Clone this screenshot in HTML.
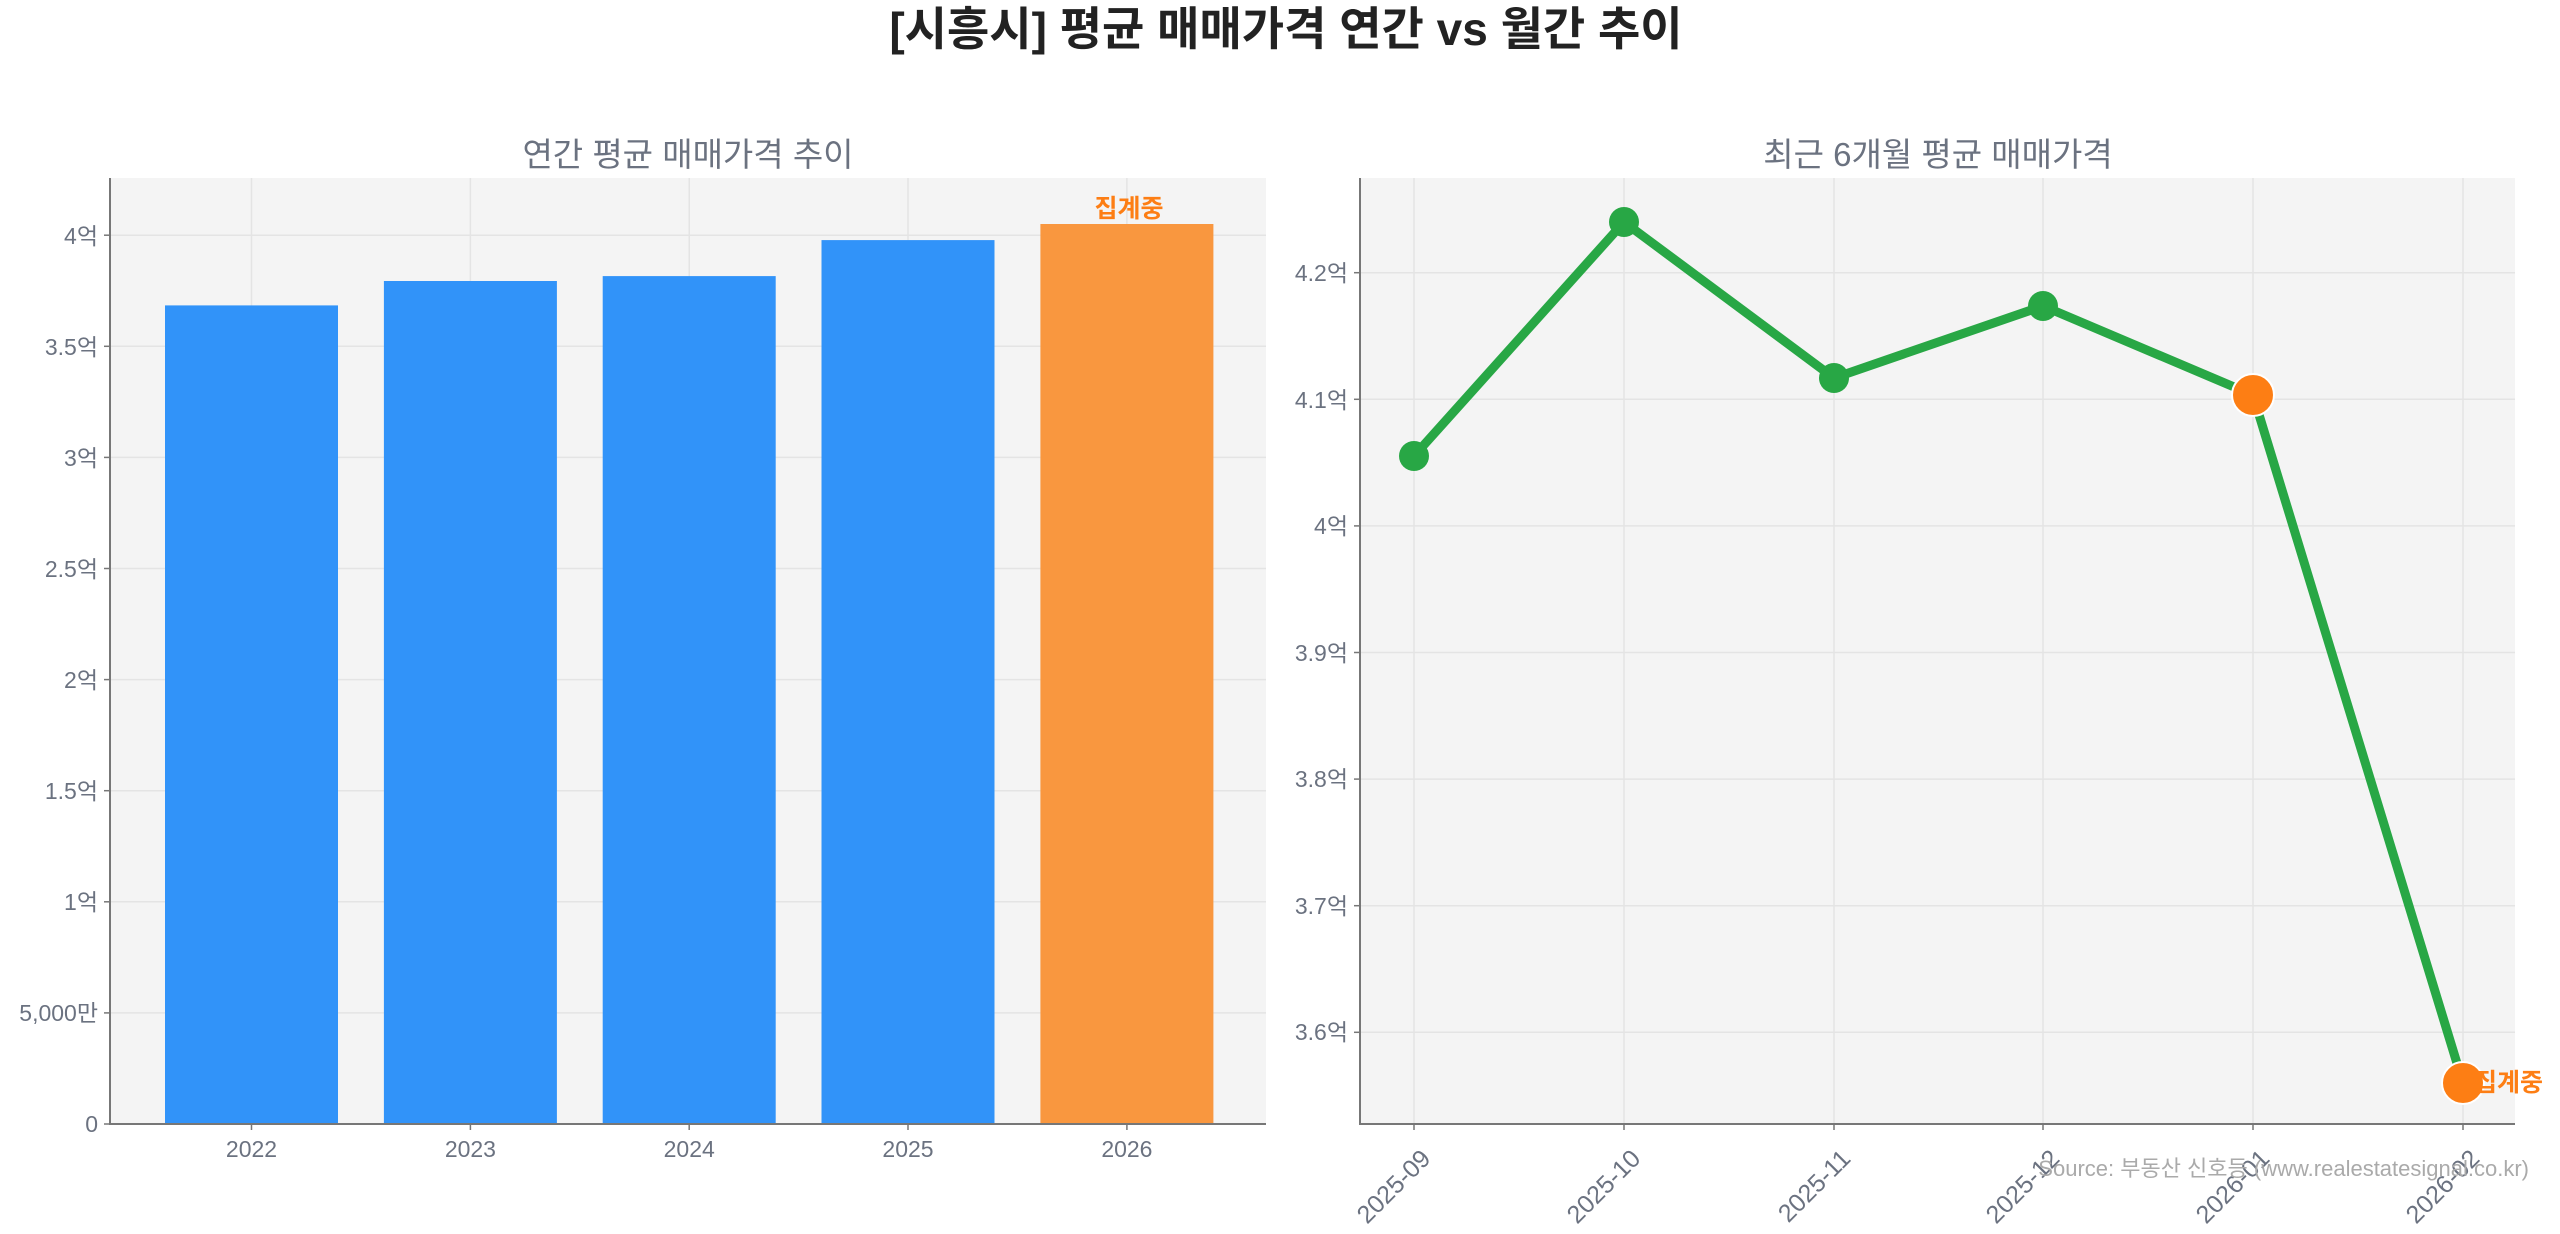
<!DOCTYPE html>
<html><head><meta charset="utf-8"><style>
html,body{margin:0;padding:0;background:#fff;}
svg{display:block;font-family:"Liberation Sans","Noto Sans CJK KR",sans-serif;}
</style></head><body>
<svg width="2560" height="1234" viewBox="0 0 2560 1234" xmlns="http://www.w3.org/2000/svg">
<text x="1286" y="45" font-size="46" font-weight="bold" fill="#222" text-anchor="middle">[시흥시] 평균 매매가격 연간 vs 월간 추이</text>

<!-- LEFT -->
<text x="688" y="166" font-size="33" fill="#6b7280" text-anchor="middle">연간 평균 매매가격 추이</text>
<rect x="110" y="178" width="1156" height="946" fill="#f4f4f4"/>
<g stroke="#e4e4e4" stroke-width="1.5">
<line x1="110" x2="1266" y1="1012.9" y2="1012.9"/><line x1="110" x2="1266" y1="901.8" y2="901.8"/>
<line x1="110" x2="1266" y1="790.7" y2="790.7"/><line x1="110" x2="1266" y1="679.6" y2="679.6"/>
<line x1="110" x2="1266" y1="568.5" y2="568.5"/><line x1="110" x2="1266" y1="457.4" y2="457.4"/>
<line x1="110" x2="1266" y1="346.3" y2="346.3"/><line x1="110" x2="1266" y1="235.2" y2="235.2"/>
<line y1="178" y2="1124" x1="251.5" x2="251.5"/><line y1="178" y2="1124" x1="470.4" x2="470.4"/>
<line y1="178" y2="1124" x1="689.2" x2="689.2"/><line y1="178" y2="1124" x1="908" x2="908"/>
<line y1="178" y2="1124" x1="1126.9" x2="1126.9"/>
</g>
<rect x="165" y="305.4" width="173" height="818.6" fill="#3193f9"/>
<rect x="383.9" y="281" width="173" height="843" fill="#3193f9"/>
<rect x="602.7" y="276.1" width="173" height="847.9" fill="#3193f9"/>
<rect x="821.5" y="240.1" width="173" height="883.9" fill="#3193f9"/>
<rect x="1040.4" y="224" width="173" height="900" fill="#f9973f"/>
<text x="1129" y="217" font-size="25" font-weight="bold" fill="#fd7e14" text-anchor="middle">집계중</text>
<line x1="110" y1="178" x2="110" y2="1124" stroke="#777" stroke-width="2"/>
<line x1="109" y1="1124" x2="1266" y2="1124" stroke="#777" stroke-width="2"/>
<g font-size="23" fill="#6b7280" text-anchor="end">
<text x="98" y="1132">0</text><text x="98" y="1021">5,000만</text><text x="98" y="910">1억</text>
<text x="98" y="799">1.5억</text><text x="98" y="688">2억</text><text x="98" y="577">2.5억</text>
<text x="98" y="466">3억</text><text x="98" y="355">3.5억</text><text x="98" y="244">4억</text>
</g>
<g stroke="#777" stroke-width="1.5">
<line x1="104" x2="110" y1="1124" y2="1124"/><line x1="104" x2="110" y1="1012.9" y2="1012.9"/><line x1="104" x2="110" y1="901.8" y2="901.8"/><line x1="104" x2="110" y1="790.7" y2="790.7"/><line x1="104" x2="110" y1="679.6" y2="679.6"/><line x1="104" x2="110" y1="568.5" y2="568.5"/><line x1="104" x2="110" y1="457.4" y2="457.4"/><line x1="104" x2="110" y1="346.3" y2="346.3"/><line x1="104" x2="110" y1="235.2" y2="235.2"/>
<line y1="1124" y2="1130" x1="251.5" x2="251.5"/><line y1="1124" y2="1130" x1="470.4" x2="470.4"/><line y1="1124" y2="1130" x1="689.2" x2="689.2"/><line y1="1124" y2="1130" x1="908" x2="908"/><line y1="1124" y2="1130" x1="1126.9" x2="1126.9"/>
</g>
<g font-size="23" fill="#6b7280" text-anchor="middle">
<text x="251.5" y="1157">2022</text><text x="470.4" y="1157">2023</text><text x="689.2" y="1157">2024</text><text x="908" y="1157">2025</text><text x="1126.9" y="1157">2026</text>
</g>

<!-- RIGHT -->
<text x="1938" y="166" font-size="33" fill="#6b7280" text-anchor="middle">최근 6개월 평균 매매가격</text>
<rect x="1360" y="178" width="1155" height="946" fill="#f4f4f4"/>
<g stroke="#e4e4e4" stroke-width="1.5">
<line x1="1360" x2="2515" y1="272.7" y2="272.7"/><line x1="1360" x2="2515" y1="399.3" y2="399.3"/>
<line x1="1360" x2="2515" y1="525.9" y2="525.9"/><line x1="1360" x2="2515" y1="652.5" y2="652.5"/>
<line x1="1360" x2="2515" y1="779.1" y2="779.1"/><line x1="1360" x2="2515" y1="905.7" y2="905.7"/>
<line x1="1360" x2="2515" y1="1032.3" y2="1032.3"/>
<line y1="178" y2="1124" x1="1414" x2="1414"/><line y1="178" y2="1124" x1="1624" x2="1624"/>
<line y1="178" y2="1124" x1="1834" x2="1834"/><line y1="178" y2="1124" x1="2043" x2="2043"/>
<line y1="178" y2="1124" x1="2253" x2="2253"/><line y1="178" y2="1124" x1="2463" x2="2463"/>
</g>
<polyline points="1414,456 1624,222 1834,378 2043,306 2253,395 2463,1083" fill="none" stroke="#28a745" stroke-width="9" stroke-linejoin="round"/>
<g fill="#28a745">
<circle cx="1414" cy="456" r="15"/><circle cx="1624" cy="222" r="15"/><circle cx="1834" cy="378" r="15"/><circle cx="2043" cy="306" r="15"/>
</g>
<circle cx="2253" cy="395" r="21" fill="#fd7e14" stroke="#fff" stroke-width="2"/>
<circle cx="2463" cy="1083" r="21" fill="#fd7e14" stroke="#fff" stroke-width="2"/>
<text x="2474" y="1091" font-size="25" font-weight="bold" fill="#fd7e14">집계중</text>
<line x1="1360" y1="178" x2="1360" y2="1124" stroke="#777" stroke-width="2"/>
<line x1="1359" y1="1124" x2="2515" y2="1124" stroke="#777" stroke-width="2"/>
<g stroke="#777" stroke-width="1.5">
<line x1="1354" x2="1360" y1="272.7" y2="272.7"/><line x1="1354" x2="1360" y1="399.3" y2="399.3"/><line x1="1354" x2="1360" y1="525.9" y2="525.9"/><line x1="1354" x2="1360" y1="652.5" y2="652.5"/><line x1="1354" x2="1360" y1="779.1" y2="779.1"/><line x1="1354" x2="1360" y1="905.7" y2="905.7"/><line x1="1354" x2="1360" y1="1032.3" y2="1032.3"/>
<line y1="1124" y2="1130" x1="1414" x2="1414"/><line y1="1124" y2="1130" x1="1624" x2="1624"/><line y1="1124" y2="1130" x1="1834" x2="1834"/><line y1="1124" y2="1130" x1="2043" x2="2043"/><line y1="1124" y2="1130" x1="2253" x2="2253"/><line y1="1124" y2="1130" x1="2463" x2="2463"/>
</g>
<g font-size="23" fill="#6b7280" text-anchor="end">
<text x="1348" y="281">4.2억</text><text x="1348" y="408">4.1억</text><text x="1348" y="534">4억</text>
<text x="1348" y="661">3.9억</text><text x="1348" y="787">3.8억</text><text x="1348" y="914">3.7억</text><text x="1348" y="1040">3.6억</text>
</g>
<g font-size="25" fill="#6b7280" text-anchor="end">
<text transform="translate(1432,1160) rotate(-45)">2025-09</text>
<text transform="translate(1642,1160) rotate(-45)">2025-10</text>
<text transform="translate(1852,1160) rotate(-45)">2025-11</text>
<text transform="translate(2061,1160) rotate(-45)">2025-12</text>
<text transform="translate(2271,1160) rotate(-45)">2026-01</text>
<text transform="translate(2481,1160) rotate(-45)">2026-02</text>
</g>
<text x="2529" y="1176" font-size="22" fill="#aaa" text-anchor="end">Source: 부동산 신호등 (www.realestatesignal.co.kr)</text>
</svg>
</body></html>
